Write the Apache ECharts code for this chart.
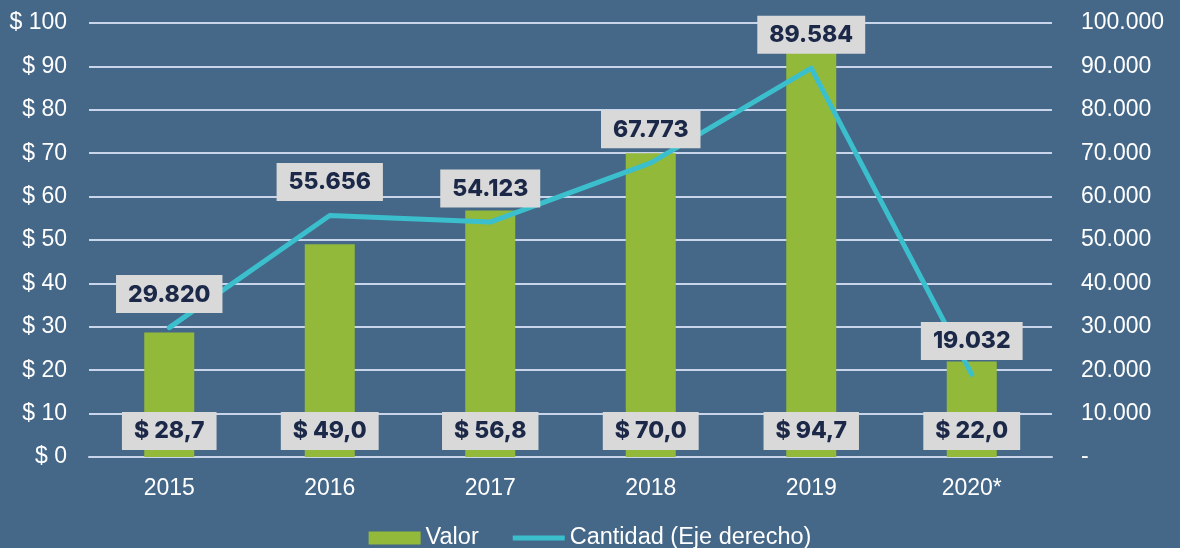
<!DOCTYPE html>
<html>
<head>
<meta charset="utf-8">
<script src="https://cdn.jsdelivr.net/npm/echarts@6/dist/echarts.min.js"></script>
<style>
  html, body { margin: 0; padding: 0; background: #456889; }
  #chart { width: 1180px; height: 548px; }
</style>
</head>
<body>
<div id="chart"></div>
<script>
const years = ['2015', '2016', '2017', '2018', '2019', '2020*'];
const valor = [28.7, 49.0, 56.8, 70.0, 94.7, 22.0];
const cantidad = [29820, 55656, 54123, 67773, 89584, 19032];

const fmtMiles = (v) => String(v).replace(/\B(?=(\d{3})+(?!\d))/g, '.');

const boxLabel = {
    backgroundColor: '#D9D9D9',
    color: '#1C2848',
    fontFamily: 'Inter',
    fontWeight: 800,
    fontSize: 23,
    padding: [8, 12, 7, 12]
};
const axisText = { color: '#FFFFFF', fontFamily: 'Liberation Sans', fontSize: 23 };

const chart = echarts.init(document.getElementById('chart'));
const option = {
    backgroundColor: '#456889',
    animation: false,
    grid: { left: 89, right: 128, top: 23, bottom: 91 },
    legend: {
        top: 521,
        left: 'center',
        itemWidth: 52,
        itemHeight: 13,
        itemGap: 34,
        textStyle: Object.assign({ fontSize: 23.5 }, { color: '#FFFFFF', fontFamily: 'Liberation Sans' }),
        data: [
            { name: 'Valor', icon: 'rect' },
            { name: 'Cantidad (Eje derecho)', icon: 'path://M0,0 L52,0 L52,5 L0,5 Z' }
        ]
    },
    xAxis: {
        type: 'category',
        data: years,
        axisTick: { show: false },
        axisLine: { lineStyle: { color: '#C9D5EA', width: 2 } },
        axisLabel: Object.assign({ margin: 20 }, axisText)
    },
    yAxis: [
        {
            type: 'value',
            min: 0,
            max: 100,
            interval: 10,
            axisLine: { show: false },
            axisTick: { show: false },
            splitLine: { lineStyle: { color: '#C9D5EA', width: 2 } },
            axisLabel: Object.assign({
                margin: 22,
                formatter: (v) => '$ ' + v
            }, axisText)
        },
        {
            type: 'value',
            min: 0,
            max: 100000,
            interval: 10000,
            axisLine: { show: false },
            axisTick: { show: false },
            splitLine: { show: false },
            axisLabel: Object.assign({
                margin: 29,
                formatter: (v) => v === 0 ? '-' : fmtMiles(v)
            }, axisText)
        }
    ],
    series: [
        {
            name: 'Valor',
            type: 'bar',
            data: valor,
            barWidth: 50,
            itemStyle: { color: '#93B93B' },
            label: Object.assign({
                show: true,
                position: 'insideBottom',
                distance: 7,
                formatter: (p) => '$ ' + p.value.toFixed(1).replace('.', ',')
            }, boxLabel)
        },
        {
            name: 'Cantidad (Eje derecho)',
            type: 'line',
            yAxisIndex: 1,
            data: cantidad,
            symbol: 'circle',
            symbolSize: 1,
            showSymbol: true,
            lineStyle: { color: '#3BBFCD', width: 5, cap: 'round', join: 'round' },
            itemStyle: { color: '#3BBFCD' },
            z: 3,
            label: Object.assign({
                show: true,
                position: 'top',
                distance: 14,
                formatter: (p) => fmtMiles(p.value)
            }, boxLabel)
        }
    ]
};
chart.setOption(option);
window.addEventListener('resize', function () {
    chart.resize();
});
</script>
</body>
</html>
